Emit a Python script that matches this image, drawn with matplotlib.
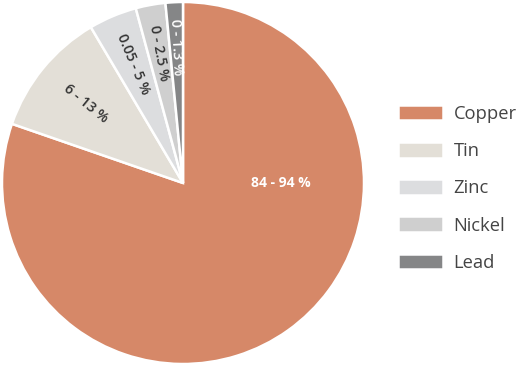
import numpy as np
import matplotlib
matplotlib.use('Agg')
import matplotlib.pyplot as plt

metals = ['Copper', 'Tin', 'Zinc', 'Nickel', 'Lead']
shares = [80.3, 11.2, 4.3, 2.65, 1.55]
labels = ['84 - 94 %', '6 - 13 %', '0.05 - 5 %', '0 - 2.5 %', '0 - 1.3 %']
colors = ['#D68868', '#E3DFD7', '#DCDDDF', '#CFCFCF', '#858687']
text_colors = ['white', '#333333', '#333333', '#333333', 'white']
label_r = [0.54, 0.69, 0.71, 0.73, 0.75]

plt.rcParams['font.family'] = ['Open Sans', 'DejaVu Sans']

W, H = 519, 366
fig = plt.figure(figsize=(W / 100, H / 100), dpi=100)
ax = fig.add_axes([2 / W, 2 / H, 362 / W, 362 / H])

wedges, _ = ax.pie(shares, colors=colors, startangle=90, counterclock=False,
                   radius=1, wedgeprops=dict(edgecolor='white', linewidth=1.8))
ax.set_xlim(-1, 1)
ax.set_ylim(-1, 1)
ax.set_aspect('equal')
ax.axis('off')

for i, w in enumerate(wedges):
    mid = (w.theta1 + w.theta2) / 2
    if i == 0:
        # main slice label sits horizontally to the right of centre
        ax.text(label_r[i], 0.0, labels[i], color=text_colors[i], fontsize=10,
                fontweight='bold', ha='center', va='center')
        continue
    x = label_r[i] * np.cos(np.radians(mid))
    y = label_r[i] * np.sin(np.radians(mid))
    ax.text(x, y, labels[i], color=text_colors[i], fontsize=10.3,
            fontweight='semibold', ha='center', va='center',
            rotation=mid - 180, rotation_mode='anchor')

fig.legend(wedges, metals, loc='upper left', bbox_to_anchor=(381 / W, 1 - 88 / H),
           frameon=False, fontsize=13.2, handlelength=2.5, handleheight=0.95,
           labelspacing=1.04, handletextpad=0.55, labelcolor='#444444')

fig.savefig('out.png', dpi=100)
